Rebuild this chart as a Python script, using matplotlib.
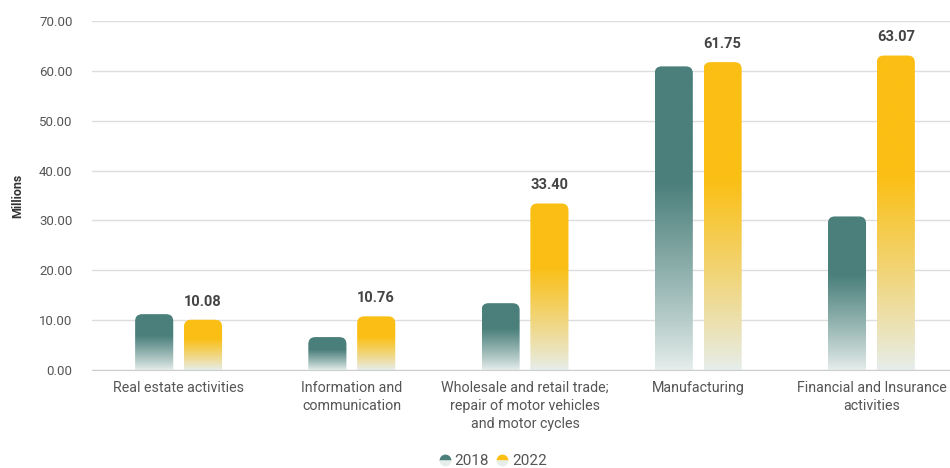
import numpy as np
import matplotlib.pyplot as plt
from matplotlib.patches import FancyBboxPatch
from matplotlib.lines import Line2D
from matplotlib.colors import to_rgb

plt.rcParams['font.family'] = ['Roboto', 'DejaVu Sans']

categories = ['Real estate activities',
              'Information and\ncommunication',
              'Wholesale and retail trade;\nrepair of motor vehicles\nand motor cycles',
              'Manufacturing',
              'Financial and Insurance\nactivities']
values_2018 = [11.2, 6.6, 13.4, 60.9, 30.8]
values_2022 = [10.08, 10.76, 33.40, 61.75, 63.07]
series = ['2018', '2022']
colors = ['#4a7f7b', '#fbbf14']
pale = '#e6eeec'

fig = plt.figure(figsize=(9.5, 4.68), dpi=100)
ax = fig.add_axes([92 / 950, 98 / 468, 866 / 950, 349 / 468])
ax.set_xlim(-0.5, 4.5)
ax.set_ylim(0, 70)
ax.set_yticks(np.arange(0, 71, 10))
ax.yaxis.set_major_formatter(plt.FuncFormatter(lambda v, p: f'{v:.2f}'))
ax.grid(axis='y', color='#dddddd', linewidth=1)
ax.set_axisbelow(True)
for s in ['top', 'right', 'left']:
    ax.spines[s].set_visible(False)
ax.spines['bottom'].set_color('#cccccc')
ax.tick_params(length=0, labelcolor='#555555', labelsize=9.5)
ax.tick_params(axis='y', pad=14)
ax.tick_params(axis='x', pad=8, labelsize=10.3)
ax.set_xticks(range(len(categories)))
ax.set_xticklabels(categories, linespacing=1.35)
ax.set_ylabel('Millions', fontsize=9, fontweight='bold', color='#333333')
ax.yaxis.set_label_coords(-0.078, 0.5)

# data units per pixel, used for the rounded tops
px_x = 5 / 866
px_y = 70 / 349
bar_w = 0.22
offset = 0.141
radius_px = 7


def gradient_bar(x, h, color):
    base = np.array(to_rgb(color))
    low = np.array(to_rgb(pale))
    t = np.linspace(0, 1, 256)
    f = np.clip(t / 0.62, 0, 1) ** 0.9
    rgb = low[None, :] * (1 - f[:, None]) + base[None, :] * f[:, None]
    img = rgb[:, None, :]
    x0 = x - bar_w / 2
    im = ax.imshow(img, extent=[x0, x0 + bar_w, 0, h], origin='lower',
                   aspect='auto', zorder=2, interpolation='bilinear')
    r = radius_px * px_x
    patch = FancyBboxPatch((x0, -3), bar_w, h + 3,
                           boxstyle=f'round,pad=0,rounding_size={r}',
                           mutation_aspect=px_y / px_x, transform=ax.transData)
    im.set_clip_path(patch)


xs = np.arange(len(categories))
for i in xs:
    gradient_bar(i - offset, values_2018[i], colors[0])
    gradient_bar(i + offset, values_2022[i], colors[1])
    ax.annotate(f'{values_2022[i]:.2f}', (i + offset, values_2022[i]),
                xytext=(0, 8), textcoords='offset points', ha='center',
                va='bottom', fontsize=10.5, fontweight='bold', color='#444444')

handles = [Line2D([], [], marker='o', linestyle='', markersize=8.5,
                  markerfacecolor=c, markerfacecoloralt=pale, fillstyle='top',
                  markeredgewidth=0) for c in colors]
fig.legend(handles, series, loc='center', bbox_to_anchor=(490 / 950, 1 - 461 / 468),
           ncol=2, frameon=False, fontsize=11, handletextpad=-0.1,
           columnspacing=0.1, handlelength=1.5, labelcolor='#555555')

fig.savefig('out.png', dpi=100)
